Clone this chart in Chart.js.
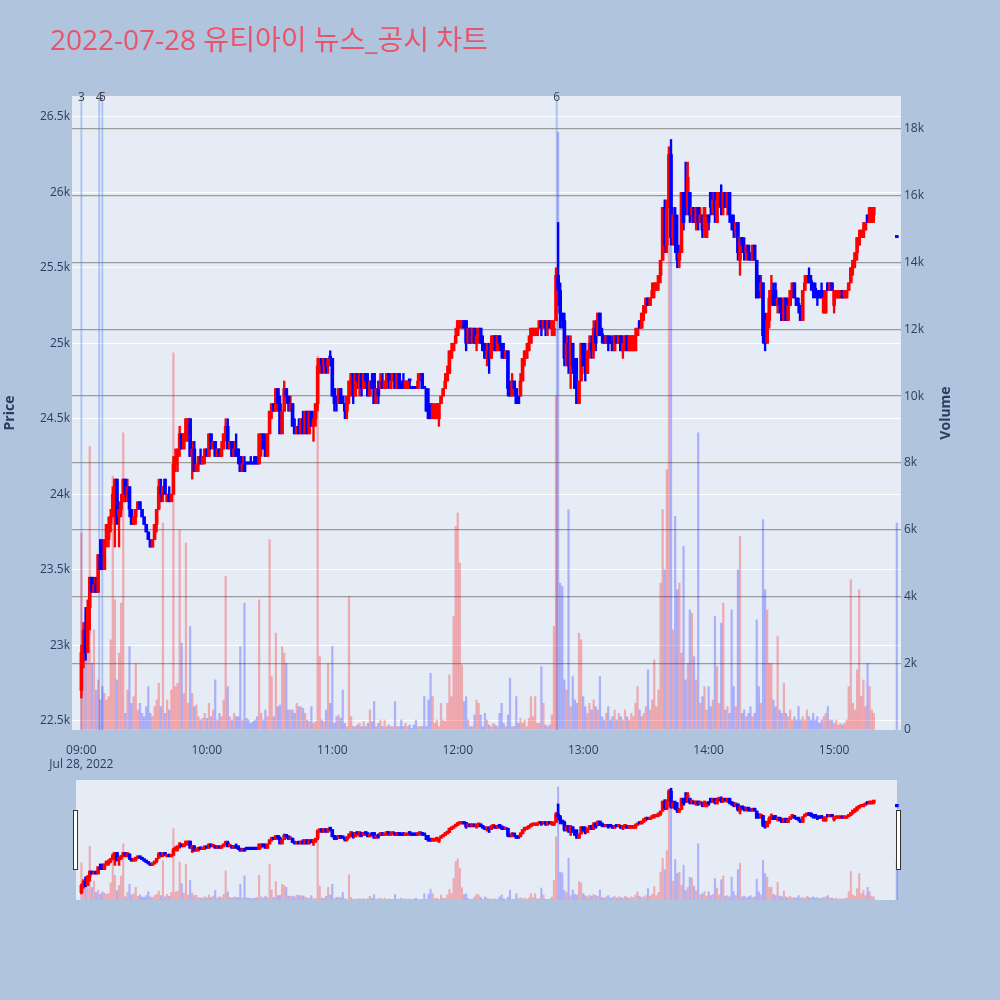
<!DOCTYPE html>
<html>
<head>
<meta charset="utf-8">
<script src="https://cdn.jsdelivr.net/npm/chart.js@4.4.1/dist/chart.umd.min.js"></script>
<style>
  html, body { margin: 0; padding: 0; background: #b0c4de; }
  #wrap { position: relative; width: 1000px; height: 1000px; }
  #main { position: absolute; left: 0; top: 0; }
  #sliderBg { position: absolute; left: 76px; top: 780px; width: 821px; height: 120px; background: #e5ecf6; }
  #slider { position: absolute; left: 72px; top: 780px; }
  .grab { position: absolute; top: 810px; width: 3px; height: 58px; background: #ffffff; border: 1px solid #333; }
</style>
</head>
<body>
<div id="wrap">
  <canvas id="main" width="1000" height="1000"></canvas>
  <div id="sliderBg"></div>
  <canvas id="slider" width="829" height="120"></canvas>
  <div class="grab" style="left:73px"></div>
  <div class="grab" style="left:896px"></div>
</div>
<script>
// 1-minute candles from 09:00, last entry is the 15:30 closing auction
var sessionStart = '09:00';
var auctionTime = '15:30';
var dateLabel = 'Jul 28, 2022';
var titleText = '2022-07-28 유티아이 뉴스_공시 차트';

var opens = [
  22700,22950,23100,22950,23250,23450,23350,23400,23350,23600,
  23650,23500,23700,23700,23800,23850,24000,24100,23850,23900,
  23950,24100,24000,24050,23900,23800,23850,23900,23950,23900,
  23850,23800,23750,23700,23650,23700,23800,23900,24050,24000,
  24100,23950,24000,23950,24000,24200,24250,24300,24400,24300,
  24400,24400,24500,24250,24300,24150,24200,24250,24200,24250,
  24300,24250,24400,24300,24350,24250,24300,24250,24300,24400,
  24450,24300,24350,24250,24300,24300,24250,24150,24200,24200,
  24200,24200,24200,24250,24200,24200,24300,24400,24300,24250,
  24400,24550,24600,24550,24700,24600,24400,24550,24700,24650,
  24550,24600,24450,24400,24450,24400,24500,24400,24550,24400,
  24550,24450,24500,24600,24850,24900,24850,24900,24850,24900,
  24900,24700,24650,24600,24700,24650,24600,24550,24650,24750,
  24800,24650,24800,24750,24800,24700,24800,24750,24650,24750,
  24800,24600,24700,24700,24750,24700,24750,24800,24700,24750,
  24800,24700,24800,24700,24750,24700,24700,24750,24700,24700,
  24700,24700,24750,24800,24700,24700,24550,24600,24500,24500,
  24550,24500,24600,24650,24700,24750,24800,24900,24950,25000,
  25050,25100,25100,25150,25150,25000,25100,25000,25100,25000,
  25050,25100,25000,24950,24900,24950,24900,25000,25050,24950,
  25050,25000,24950,24900,24950,24700,24650,24750,24700,24650,
  24650,24750,24900,24900,24950,25000,25050,25050,25050,25100,
  25150,25100,25150,25100,25150,25100,25050,25150,25450,25350,
  25200,25150,24900,25000,24850,25000,24850,24700,24600,24750,
  25000,24850,24800,24950,25000,24950,25100,25050,25200,25050,
  25050,25000,25050,25000,25000,24950,25050,25000,25050,24950,
  25000,25050,24950,24950,24950,24950,25050,25150,25100,25200,
  25250,25300,25250,25300,25350,25350,25400,25450,25550,25900,
  25650,25900,26250,25700,25850,25650,25550,25600,26000,26000,
  25900,26000,25850,25900,25800,25900,25800,25850,25750,25700,
  25850,26000,25900,25950,25800,25950,26000,25900,26000,25900,
  26000,25850,25800,25750,25800,25550,25700,25650,25600,25650,
  25600,25550,25650,25550,25450,25350,25400,25050,25000,25150,
  25300,25350,25350,25250,25300,25250,25150,25300,25150,25250,
  25350,25400,25300,25250,25250,25150,25350,25400,25450,25400,
  25400,25350,25350,25300,25350,25200,25200,25400,25350,25400,
  25250,25300,25300,25300,25350,25300,25300,25350,25400,25500,
  25550,25600,25650,25700,25700,25750,25850,25800,25800,25850,
  25700
];
var highs = [
  23000,23150,23250,23300,23450,23450,23450,23450,23600,23700,
  23700,23700,23800,23850,23900,24050,24100,24100,23950,24000,
  24100,24100,24100,24050,23900,23850,23900,23950,23950,23900,
  23850,23800,23750,23700,23700,23800,23900,24100,24100,24050,
  24100,24000,24050,24000,24250,24300,24300,24450,24400,24400,
  24500,24500,24500,24350,24350,24200,24250,24300,24250,24300,
  24300,24400,24400,24350,24350,24300,24300,24350,24400,24500,
  24500,24350,24350,24350,24400,24300,24250,24250,24250,24200,
  24200,24250,24200,24250,24250,24400,24400,24400,24400,24400,
  24550,24600,24600,24700,24700,24650,24550,24750,24700,24650,
  24650,24600,24500,24450,24500,24500,24550,24550,24550,24550,
  24550,24550,24600,24900,24900,24900,24900,24900,24900,24950,
  24900,24700,24650,24700,24700,24650,24600,24650,24750,24800,
  24800,24800,24800,24800,24800,24800,24800,24800,24750,24800,
  24800,24700,24750,24800,24800,24750,24800,24800,24800,24800,
  24800,24800,24800,24750,24800,24750,24750,24750,24700,24700,
  24700,24800,24800,24800,24700,24700,24700,24600,24600,24600,
  24600,24600,24650,24700,24800,24850,24950,25000,25000,25100,
  25150,25150,25150,25150,25150,25100,25100,25100,25100,25100,
  25100,25100,25050,25000,25000,25000,25050,25050,25050,25050,
  25050,25000,25000,24950,24950,24750,24800,24750,24700,24650,
  24800,24900,24950,25000,25050,25100,25100,25100,25100,25150,
  25150,25150,25150,25150,25150,25150,25150,25500,25800,25400,
  25200,25200,25050,25050,25050,25000,24900,24900,24750,25000,
  25000,25000,24950,25050,25050,25150,25150,25200,25200,25100,
  25050,25050,25050,25050,25050,25050,25050,25050,25050,25050,
  25050,25050,25050,25050,25050,25100,25100,25150,25200,25250,
  25300,25300,25300,25400,25400,25400,25450,25550,25900,25950,
  25950,26300,26350,25900,25900,25850,25650,26000,26000,26200,
  26200,26000,25900,25900,25900,25900,25900,25850,25900,25850,
  25850,26000,26000,26000,26000,26000,26050,26000,26000,26000,
  26000,25850,25850,25800,25800,25700,25700,25700,25650,25650,
  25600,25650,25650,25550,25450,25450,25400,25200,25200,25350,
  25450,25400,25400,25300,25300,25300,25300,25300,25300,25350,
  25400,25400,25300,25300,25250,25350,25450,25450,25500,25450,
  25400,25400,25350,25350,25400,25350,25350,25400,25400,25400,
  25350,25350,25350,25350,25350,25350,25350,25400,25500,25550,
  25600,25700,25750,25750,25800,25800,25850,25900,25900,25900,
  25700
];
var lows = [
  22650,22850,22900,22950,23100,23350,23350,23350,23350,23500,
  23500,23500,23650,23650,23750,23850,23650,23800,23650,23850,
  23950,23950,23950,23850,23800,23800,23800,23900,23900,23850,
  23800,23750,23700,23650,23650,23700,23750,23900,23950,23950,
  24000,23950,23950,23950,24000,24150,24150,24250,24300,24300,
  24350,24350,24250,24100,24150,24150,24150,24200,24200,24200,
  24250,24250,24300,24300,24250,24250,24250,24250,24300,24350,
  24300,24300,24250,24250,24250,24200,24150,24150,24150,24200,
  24200,24200,24200,24200,24200,24200,24250,24300,24250,24250,
  24400,24500,24550,24550,24550,24400,24400,24550,24600,24550,
  24550,24450,24400,24400,24400,24400,24400,24400,24400,24400,
  24450,24350,24450,24550,24800,24800,24800,24800,24800,24850,
  24650,24550,24550,24600,24600,24600,24500,24500,24600,24650,
  24600,24650,24700,24650,24650,24700,24700,24650,24650,24700,
  24600,24600,24600,24700,24700,24700,24700,24700,24700,24750,
  24700,24700,24700,24700,24700,24700,24700,24700,24700,24700,
  24700,24700,24750,24700,24700,24550,24500,24500,24500,24500,
  24500,24450,24600,24650,24700,24750,24800,24900,24950,25000,
  25050,25100,25100,25100,24950,25000,25000,25000,25000,24950,
  25000,25000,24950,24900,24850,24800,24900,24950,24950,24950,
  24950,24900,24900,24900,24650,24650,24650,24650,24600,24600,
  24650,24750,24850,24900,24950,25000,25050,25050,25050,25100,
  25050,25100,25050,25050,25100,25050,25050,25150,25250,25100,
  25100,24850,24850,24800,24700,24800,24700,24600,24600,24750,
  24850,24750,24800,24900,24900,24900,24950,25050,25050,25000,
  25000,25000,24950,25000,24950,24950,25000,25000,24950,24900,
  24950,24950,24950,24950,24950,24950,25050,25100,25100,25150,
  25200,25250,25250,25300,25300,25350,25350,25400,25550,25600,
  25600,25900,25650,25650,25600,25500,25500,25600,25750,25850,
  25850,25800,25800,25800,25750,25750,25800,25700,25700,25700,
  25750,25850,25850,25800,25800,25900,25850,25850,25900,25850,
  25800,25750,25700,25700,25550,25450,25600,25550,25550,25550,
  25550,25550,25550,25300,25300,25300,25000,24950,25000,25100,
  25250,25250,25250,25200,25200,25150,25150,25150,25150,25250,
  25300,25300,25250,25200,25150,25150,25350,25400,25400,25350,
  25300,25300,25250,25300,25300,25200,25200,25350,25350,25350,
  25200,25300,25300,25300,25300,25300,25300,25350,25400,25450,
  25500,25550,25650,25700,25700,25750,25800,25800,25800,25800,
  25700
];
var closes = [
  22950,23100,22950,23250,23450,23350,23400,23350,23600,23500,
  23500,23700,23800,23800,23850,24000,24100,23850,23900,23950,
  24100,24000,24050,23900,23800,23850,23900,23950,23900,23850,
  23800,23750,23700,23650,23700,23800,23900,24050,24000,24050,
  24000,24000,23950,24000,24200,24250,24300,24400,24300,24400,
  24500,24500,24250,24300,24150,24200,24250,24200,24250,24300,
  24250,24400,24300,24350,24250,24300,24250,24300,24400,24450,
  24300,24350,24250,24300,24250,24250,24150,24200,24150,24200,
  24200,24200,24200,24200,24200,24400,24400,24300,24250,24400,
  24550,24600,24550,24700,24600,24400,24550,24700,24650,24600,
  24600,24450,24400,24450,24400,24500,24400,24550,24400,24550,
  24450,24500,24600,24850,24900,24850,24900,24850,24900,24900,
  24650,24600,24600,24700,24600,24600,24550,24650,24750,24800,
  24650,24800,24750,24800,24700,24800,24750,24650,24750,24700,
  24600,24700,24650,24750,24700,24750,24800,24750,24750,24800,
  24700,24800,24700,24700,24700,24750,24750,24750,24700,24700,
  24700,24750,24800,24700,24700,24550,24500,24500,24600,24550,
  24600,24600,24650,24700,24750,24800,24950,24950,25000,25050,
  25150,25150,25150,25100,25000,25100,25000,25100,25000,25050,
  25100,25000,24950,24900,24950,24900,25000,25050,24950,25050,
  25000,24950,24900,24950,24700,24650,24750,24700,24600,24600,
  24750,24900,24950,24950,25000,25100,25100,25100,25100,25150,
  25100,25150,25100,25150,25100,25150,25100,25450,25350,25200,
  25150,24900,25000,24850,25000,24850,24700,24600,24750,25000,
  24850,24800,24950,25000,24950,25100,25000,25200,25050,25050,
  25000,25050,25000,25000,24950,25050,25000,25050,24950,25000,
  25050,24950,25050,25050,25050,25050,25100,25100,25200,25250,
  25300,25250,25300,25350,25400,25400,25450,25550,25900,25650,
  25900,26250,25700,25850,25650,25550,25600,26000,25800,25900,
  26100,25850,25900,25800,25900,25800,25850,25750,25900,25850,
  25800,25900,25950,25900,25950,26000,25900,26000,25900,26000,
  25850,25800,25750,25800,25600,25700,25650,25600,25650,25600,
  25550,25650,25550,25300,25350,25400,25050,25000,25150,25300,
  25350,25250,25250,25300,25250,25150,25300,25150,25250,25350,
  25400,25300,25250,25250,25150,25350,25400,25450,25400,25400,
  25350,25350,25300,25300,25300,25300,25350,25350,25400,25350,
  25350,25350,25350,25350,25300,25350,25350,25400,25500,25550,
  25600,25700,25700,25750,25750,25800,25800,25900,25900,25900,
  25700
];
var volumes = [
  5900,3200,3500,2400,8500,2000,3000,1200,1500,900,
  1300,1100,900,1000,2700,7600,3900,1500,2300,3800,
  8900,500,1200,2500,800,1000,2000,600,800,500,
  400,700,1300,500,400,700,900,1400,700,6200,
  500,900,600,1200,11300,1300,1400,6000,2600,1100,
  5600,800,3100,1100,700,750,400,300,350,500,
  350,800,400,600,1500,300,500,400,900,4600,
  1300,400,300,500,400,400,2500,300,3800,350,
  300,200,250,300,400,3900,500,300,600,400,
  5700,1600,400,2900,700,750,2500,2300,2000,600,
  600,600,500,800,700,700,650,500,300,250,
  700,200,250,11200,2200,300,250,600,2000,800,
  2500,200,400,450,350,1200,200,100,4000,400,
  100,100,150,200,100,250,100,200,600,250,
  850,100,200,300,100,300,100,150,100,100,
  850,100,100,300,100,200,100,150,50,150,
  300,100,100,100,1000,100,900,1700,1000,200,
  300,100,800,300,250,800,1650,1000,3400,6100,
  6500,5000,1950,850,1000,300,100,100,450,900,
  800,450,100,500,300,150,100,200,150,100,
  500,800,200,100,450,1550,100,100,1000,200,
  350,200,300,100,350,1000,400,1000,200,200,
  1900,800,150,100,150,450,3100,10000,17900,4400,
  4300,1500,1200,6600,700,1600,900,800,2900,2700,
  1000,700,500,800,600,900,700,600,1600,400,
  300,500,700,300,400,600,300,500,400,300,
  600,400,300,500,400,800,1300,600,400,500,
  700,1800,600,900,2100,700,1200,4400,6600,4800,
  7800,17500,17300,3000,6400,4200,4400,2300,5500,1500,
  2000,3600,3500,2200,1500,8900,800,1000,1300,600,
  1300,700,900,3400,1900,800,3200,3800,600,700,
  500,3600,1300,700,4800,5800,500,600,400,500,
  700,400,500,3300,1300,800,6300,4200,3600,2000,
  2000,900,700,2800,600,500,1400,500,400,600,
  300,400,300,700,300,400,300,600,400,300,
  500,300,400,200,300,400,500,700,300,300,
  200,300,150,200,150,200,300,1300,4500,800,
  600,1800,4200,1000,1500,700,2000,1300,600,500,
  6200
];

var hourTicks = ['09:00', '10:00', '11:00', '12:00', '13:00', '14:00', '15:00'];
var priceTicks = [22500, 23000, 23500, 24000, 24500, 25000, 25500, 26000, 26500];
var volumeTicks = [0, 2000, 4000, 6000, 8000, 10000, 12000, 14000, 16000, 18000];
var newsTimes = ['09:00:00', '09:08:30', '09:10:00', '12:47:20'];
var newsLabels = ['3', '4', '5', '6'];

var UP = '#ff0000', DOWN = '#0000ff';
var FONT = '"Open Sans", "Noto Sans CJK KR", sans-serif';
var TICK = '#2a3f5f';

function toMin(t) {
  var p = t.split(':').map(Number);
  return (p[0] - 9) * 60 + p[1] + (p[2] || 0) / 60;
}
function fmtMin(m) {
  var h = 9 + Math.floor(m / 60), mm = Math.round(m % 60);
  return (h < 10 ? '0' : '') + h + ':' + (mm < 10 ? '0' : '') + mm;
}

var last = opens.length - 1;
var xs = opens.map(function (o, i) { return i < last ? toMin(sessionStart) + i : toMin(auctionTime); });
var up = opens.map(function (o, i) { return closes[i] > o; });
var candleCol = up.map(function (u) { return u ? UP : DOWN; });
var volCol = up.map(function (u) { return u ? 'rgba(255,0,0,0.28)' : 'rgba(0,0,255,0.25)'; });

var xMin = -4.5, xMax = 392;
var pMin = 22438, pMax = 26638;
var vMax = 18990;

function makeDatasets(thin) {
  return [
    {
      data: xs.map(function (x, i) { return { x: x, y: volumes[i] }; }),
      yAxisID: 'yv', backgroundColor: volCol, barThickness: thin ? 1.4 : 1.6,
      grouped: false, order: 3
    },
    {
      data: xs.map(function (x, i) { return { x: x, y: [lows[i], highs[i]] }; }),
      yAxisID: 'y', backgroundColor: candleCol, barThickness: thin ? 2 : 1.7,
      grouped: false, order: 2
    },
    {
      data: xs.map(function (x, i) { return { x: x, y: [opens[i], closes[i]] }; }),
      yAxisID: 'y', backgroundColor: candleCol, barThickness: 3, minBarLength: thin ? 2.5 : 2.2,
      grouped: false, order: 1
    }
  ];
}

var plotBg = {
  id: 'plotBg',
  beforeDraw: function (chart) {
    var a = chart.chartArea, ctx = chart.ctx;
    ctx.save();
    ctx.fillStyle = '#e5ecf6';
    ctx.fillRect(a.left, a.top, a.right - a.left, a.bottom - a.top);
    ctx.restore();
  }
};

var labels = {
  id: 'labels',
  afterDraw: function (chart) {
    var ctx = chart.ctx, a = chart.chartArea, xs_ = chart.scales.x;
    ctx.save();
    ctx.fillStyle = '#e9546b';
    ctx.font = '28px ' + FONT;
    ctx.textAlign = 'left';
    ctx.textBaseline = 'alphabetic';
    ctx.fillText(titleText, 50, 50);

    ctx.fillStyle = '#444';
    ctx.font = '12px ' + FONT;
    ctx.textAlign = 'center';
    newsTimes.forEach(function (t, i) {
      ctx.fillText(newsLabels[i], xs_.getPixelForValue(toMin(t)), a.top + 5);
    });

    ctx.fillStyle = TICK;
    ctx.font = 'bold 14px ' + FONT;
    ctx.textBaseline = 'middle';
    var cy = (a.top + a.bottom) / 2;
    [['Price', 10], ['Volume', 946]].forEach(function (p) {
      ctx.save();
      ctx.translate(p[1], cy);
      ctx.rotate(-Math.PI / 2);
      ctx.fillText(p[0], 0, 0);
      ctx.restore();
    });
    ctx.restore();
  }
};

var mainSets = makeDatasets(false);
mainSets.push({
  data: newsTimes.map(function (t) { return { x: toMin(t), y: 1 }; }),
  yAxisID: 'yn', backgroundColor: 'rgba(100,140,240,0.45)', barThickness: 1.2,
  grouped: false, order: 4
});

new Chart(document.getElementById('main'), {
  type: 'bar',
  data: { datasets: mainSets },
  options: {
    responsive: false,
    animation: false,
    events: [],
    layout: { padding: { top: 96, left: 0, right: 0, bottom: 0 } },
    plugins: { legend: { display: false }, tooltip: { enabled: false } },
    scales: {
      x: {
        type: 'linear', min: xMin, max: xMax, offset: false,
        grid: { display: false }, border: { display: false },
        afterBuildTicks: function (ax) { ax.ticks = hourTicks.map(function (h) { return { value: toMin(h) }; }); },
        afterFit: function (ax) { ax.height = 270; },
        ticks: {
          color: TICK, font: { size: 12, family: FONT }, padding: 5, maxRotation: 0, autoSkip: false,
          callback: function (v) { return v === 0 ? [fmtMin(v), dateLabel] : fmtMin(v); }
        }
      },
      y: {
        type: 'linear', position: 'left', min: pMin, max: pMax,
        grid: { color: '#ffffff', lineWidth: 1, drawTicks: false }, border: { display: false },
        afterBuildTicks: function (ax) { ax.ticks = priceTicks.map(function (v) { return { value: v }; }); },
        afterFit: function (ax) { ax.width = 72; },
        ticks: { color: TICK, font: { size: 12, family: FONT }, padding: 2, callback: function (v) { return (v / 1000) + 'k'; } }
      },
      yv: {
        type: 'linear', position: 'right', min: 0, max: vMax,
        grid: {
          color: function (c) { return c.tick && c.tick.value === 0 ? 'rgba(0,0,0,0)' : '#9b9b9b'; },
          lineWidth: 1.3, drawTicks: false
        },
        border: { display: false },
        afterBuildTicks: function (ax) { ax.ticks = volumeTicks.map(function (v) { return { value: v }; }); },
        afterFit: function (ax) { ax.width = 99; },
        ticks: { color: TICK, font: { size: 12, family: FONT }, padding: 3, callback: function (v) { return v === 0 ? '0' : (v / 1000) + 'k'; } }
      },
      yn: { type: 'linear', display: false, min: 0, max: 1 }
    }
  },
  plugins: [plotBg, labels]
});

// range slider preview
new Chart(document.getElementById('slider'), {
  type: 'bar',
  data: { datasets: makeDatasets(true) },
  options: {
    responsive: false,
    animation: false,
    events: [],
    layout: { padding: 0 },
    plugins: { legend: { display: false }, tooltip: { enabled: false } },
    scales: {
      x: { type: 'linear', display: false, min: xMin, max: xMax, offset: false },
      y: { type: 'linear', display: false, min: pMin, max: pMax },
      yv: { type: 'linear', display: false, min: 0, max: vMax }
    }
  }
});
</script>
</body>
</html>
